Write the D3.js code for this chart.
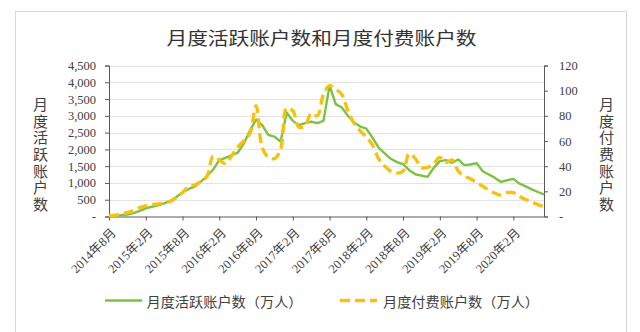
<!DOCTYPE html>
<html><head><meta charset="utf-8">
<script src="https://cdn.jsdelivr.net/npm/d3@7/dist/d3.min.js"></script>
<style>
html,body{margin:0;padding:0;background:#fff;}
svg{display:block;}
</style></head>
<body>
<svg id="chart" width="640" height="332"></svg>
<script>
// ---- data ----
const title = "月度活跃账户数和月度付费账户数";
const leftAxisTitle = "月度活跃账户数";
const rightAxisTitle = "月度付费账户数";
const seriesNames = ["月度活跃账户数（万人）", "月度付费账户数（万人）"];
const startYear = 2014, startMonth = 8, monthCount = 72;
const categories = [];
for (let i = 0; i < monthCount; i++) {
  const m = startMonth - 1 + i;
  categories.push(`${startYear + Math.floor(m / 12)}年${(m % 12) + 1}月`);
}
const tickLabels = ["2014年8月","2015年2月","2015年8月","2016年2月","2016年8月","2017年2月","2017年8月","2018年2月","2018年8月","2019年2月","2019年8月","2020年2月"];
const activeAccounts = [10,20,40,60,100,170,245,290,330,390,
  470,580,720,820,890,1040,1200,1400,1680,1750,
  1820,1900,2170,2560,2880,2720,2430,2380,2230,3100,
  2850,2720,2780,2830,2780,2850,3900,3350,3250,3000,
  2800,2680,2620,2350,2050,1880,1720,1620,1560,1380,
  1260,1220,1180,1450,1650,1680,1600,1700,1530,1550,
  1590,1350,1250,1150,1030,1080,1120,980,900,810,
  730,660];
const paidAccounts = [0.5,1,2,3,4.5,7,8.5,9.5,10,11,
  12,15,19,24,25,28,32,48,45,42,
  48,55,60,66,88,55,47,46,53,86,
  84,71,72,82,80,97,104,101,97,84,
  74,68,63,57,46,40,36,34.5,36,50,
  46,39,39,42,47,43,45,36,32,30,
  27,24,21,18.5,17,19,19,16,13.5,11.5,
  9.5,8];
const leftTicks = [0,500,1000,1500,2000,2500,3000,3500,4000,4500];
const rightTicks = [0,20,40,60,80,100,120];

// ---- drawing ----
const svg = d3.select("#chart");
const X0 = 109, X1 = 544, Y0 = 216.5, Y1 = 65.5;
const textColor = "#404040", axisColor = "#5a5a5a";
const serif = "'Liberation Serif','Noto Sans CJK SC',serif";
const cjk = "'Noto Sans CJK SC','Noto Sans',sans-serif";

// frame
svg.append("rect").attr("x",15.5).attr("y",11.5).attr("width",611).attr("height",330)
  .attr("fill","none").attr("stroke","#d9d9d9").attr("stroke-width",1);

const x = d3.scalePoint().domain(categories).range([X0, X1]);
const yL = d3.scaleLinear().domain([0,4500]).range([Y0, Y1]);
const yR = d3.scaleLinear().domain([0,120]).range([Y0, Y1]);

// gridlines
svg.append("g").selectAll("line").data(leftTicks.slice(1)).join("line")
  .attr("x1",X0).attr("x2",X1).attr("y1",d=>Math.round(yL(d))+0.5).attr("y2",d=>Math.round(yL(d))+0.5)
  .attr("stroke","#e3e3e3").attr("stroke-width",1);

// axes
const fmtL = d => d === 0 ? "-" : d3.format(",")(d);
const fmtR = d => d === 0 ? "-" : d;
const gl = svg.append("g").attr("transform",`translate(${X0},0)`)
  .call(d3.axisLeft(yL).tickValues(leftTicks).tickFormat(fmtL).tickSize(4).tickPadding(9));
const gr = svg.append("g").attr("transform",`translate(${X1},0)`)
  .call(d3.axisRight(yR).tickValues(rightTicks).tickFormat(fmtR).tickSize(4).tickPadding(11));
const gx = svg.append("g").attr("transform",`translate(0,${Y0})`)
  .call(d3.axisBottom(x).tickValues(tickLabels).tickSize(4).tickFormat(d=>d));
[gl,gr,gx].forEach(g=>{
  g.select(".domain").attr("stroke",axisColor);
  g.selectAll(".tick line").attr("stroke",axisColor);
  g.selectAll("text").attr("fill",textColor).style("font-family",serif).style("font-size","12.5px");
});
gx.select(".domain").attr("d",`M${X0},0.5H${X1}`);
gx.selectAll(".tick text")
  .attr("text-anchor","end").attr("dy","0.35em").attr("y",0)
  .attr("transform","translate(4,14) rotate(-45)")
  .style("font-size","12.5px")
  .attr("textLength",57).attr("lengthAdjust","spacingAndGlyphs");

// lines
const lineActive = d3.line().x((d,i)=>x(categories[i])).y(d=>yL(d));
const linePaid = d3.line().x((d,i)=>x(categories[i])).y(d=>yR(d)).curve(d3.curveCatmullRom.alpha(0.5));
const green = "#7cc242", gold = "#f5c211";
svg.append("path").datum(activeAccounts).attr("d",lineActive)
  .attr("fill","none").attr("stroke",green).attr("stroke-width",2.4).attr("stroke-linejoin","round");
svg.append("path").datum(paidAccounts).attr("d",linePaid)
  .attr("fill","none").attr("stroke",gold).attr("stroke-width",3.4)
  .attr("stroke-dasharray","10,5");

// title
svg.append("text").attr("x",321.5).attr("y",37).attr("text-anchor","middle")
  .attr("dominant-baseline","central").attr("fill","#333")
  .style("font-family",cjk).style("font-size","18px")
  .attr("textLength",310).attr("lengthAdjust","spacingAndGlyphs").text(title);

// vertical axis titles (single text element, vertical writing mode)
function vtitle(str, cx) {
  svg.append("text").attr("x",cx).attr("y",97)
    .attr("fill",textColor).style("font-family",cjk).style("font-size","15px")
    .style("writing-mode","vertical-rl").style("glyph-orientation-vertical","0")
    .style("letter-spacing","1.6px")
    .text(str);
}
vtitle(leftAxisTitle, 40.5);
vtitle(rightAxisTitle, 606.5);

// legend
const ly = 300.5;
svg.append("line").attr("x1",105).attr("x2",142).attr("y1",ly).attr("y2",ly)
  .attr("stroke",green).attr("stroke-width",2.4);
svg.append("line").attr("x1",340).attr("x2",377).attr("y1",ly).attr("y2",ly)
  .attr("stroke",gold).attr("stroke-width",3.4).attr("stroke-dasharray","10,5");
[[146.5, seriesNames[0]],[383, seriesNames[1]]].forEach(([lx,name])=>{
  svg.append("text").attr("x",lx).attr("y",ly).attr("dominant-baseline","central")
    .attr("fill",textColor).style("font-family",cjk).style("font-size","13.5px")
    .attr("textLength",156).attr("lengthAdjust","spacingAndGlyphs").text(name);
});
</script>
</body></html>
